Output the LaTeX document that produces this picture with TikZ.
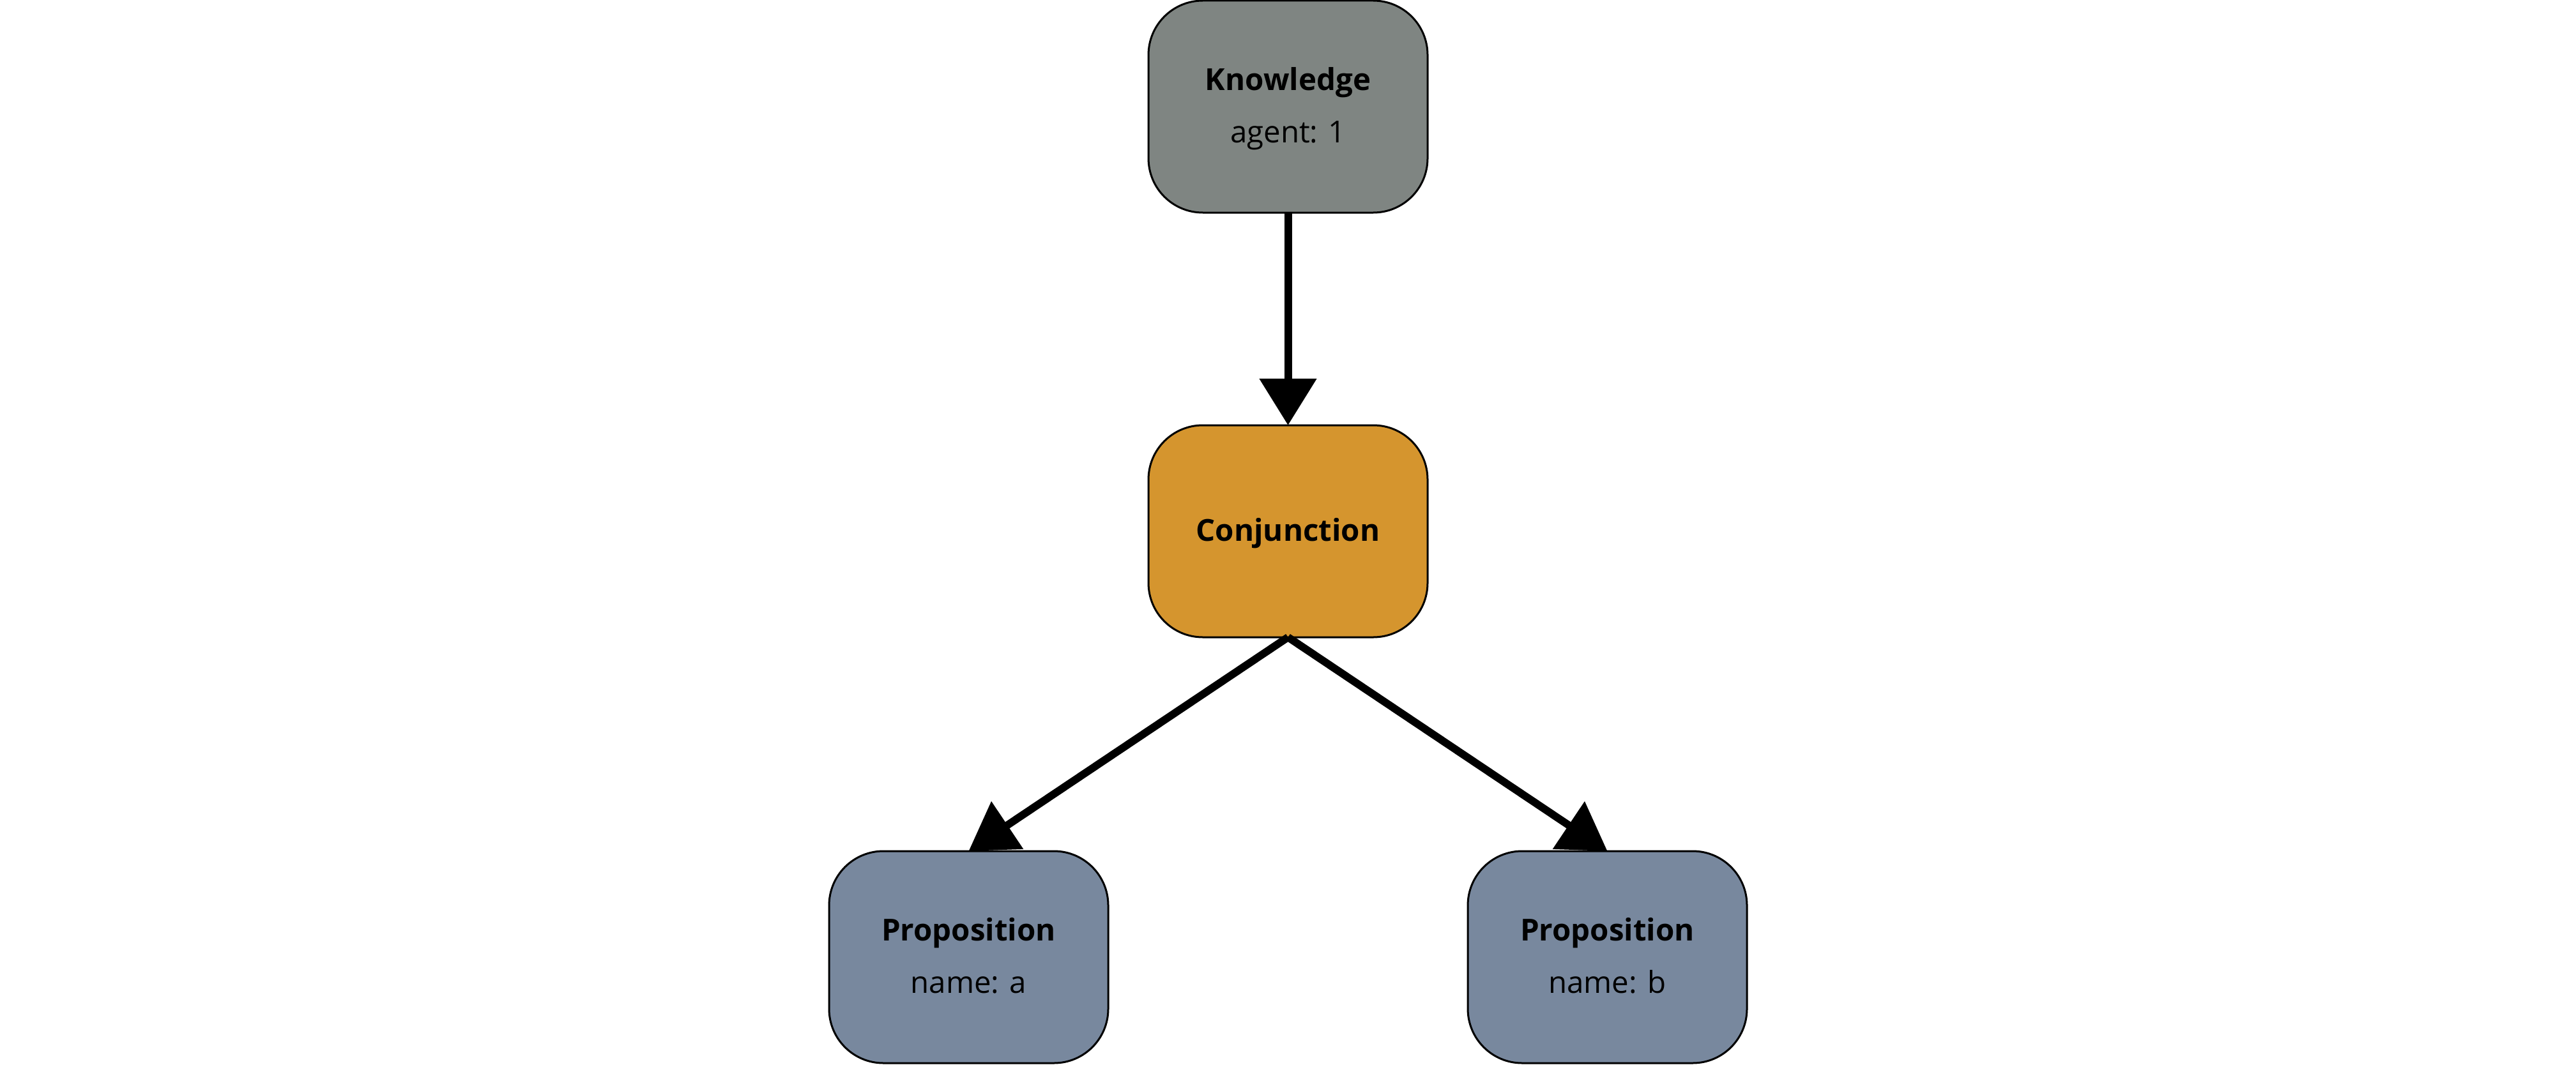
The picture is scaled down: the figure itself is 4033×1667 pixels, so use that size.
\documentclass[tikz,border=0pt]{standalone}
\usepackage{fontspec}
\setmainfont{Open Sans}
\usetikzlibrary{arrows.meta,calc}
\definecolor{knowfill}{RGB}{127,133,130}
\definecolor{conjfill}{RGB}{213,149,46}
\definecolor{propfill}{RGB}{120,136,158}
\tikzset{
  box/.style={draw=black, line width=0.3mm, rounded corners=8.5mm, minimum width=43.7mm, minimum height=33.2mm, inner sep=0pt, outer sep=0pt},
  title/.style={anchor=base, inner sep=0pt, font=\fontsize{13.5}{16}\selectfont\bfseries},
  attr/.style={anchor=base, inner sep=0pt, font=\fontsize{13.5}{16}\selectfont},
  arr/.style={line width=1.2mm, -{Triangle[length=7.3mm, width=8.7mm]}}
}
\begin{document}
\begin{tikzpicture}[x=0.1mm, y=-0.1mm]
\useasboundingbox (0,0) rectangle (4033,1667);
\node[box, fill=knowfill] (know) at (2016.5,167) {};
\node[box, fill=conjfill] (conj) at (2016.5,832) {};
\node[box, fill=propfill] (propa) at (1516.5,1499) {};
\node[box, fill=propfill] (propb) at (2516.5,1499) {};
\node[title] (knowt) at ($(know.north)+(0,140)$) {Knowledge};
\node[attr] (knowa) at ($(know.north)+(0,222)$) {agent: 1};
\node[title] (conjt) at ($(conj.north)+(0,181)$) {Conjunction};
\node[title] (propat) at ($(propa.north)+(0,140)$) {Proposition};
\node[attr] (propaa) at ($(propa.north)+(0,222)$) {name: a};
\node[title] (propbt) at ($(propb.north)+(0,140)$) {Proposition};
\node[attr] (propba) at ($(propb.north)+(0,222)$) {name: b};
\draw[arr] (know.south) -- (conj.north);
\draw[arr] (conj.south) -- (propa.north);
\draw[arr] (conj.south) -- (propb.north);
\end{tikzpicture}
\end{document}
